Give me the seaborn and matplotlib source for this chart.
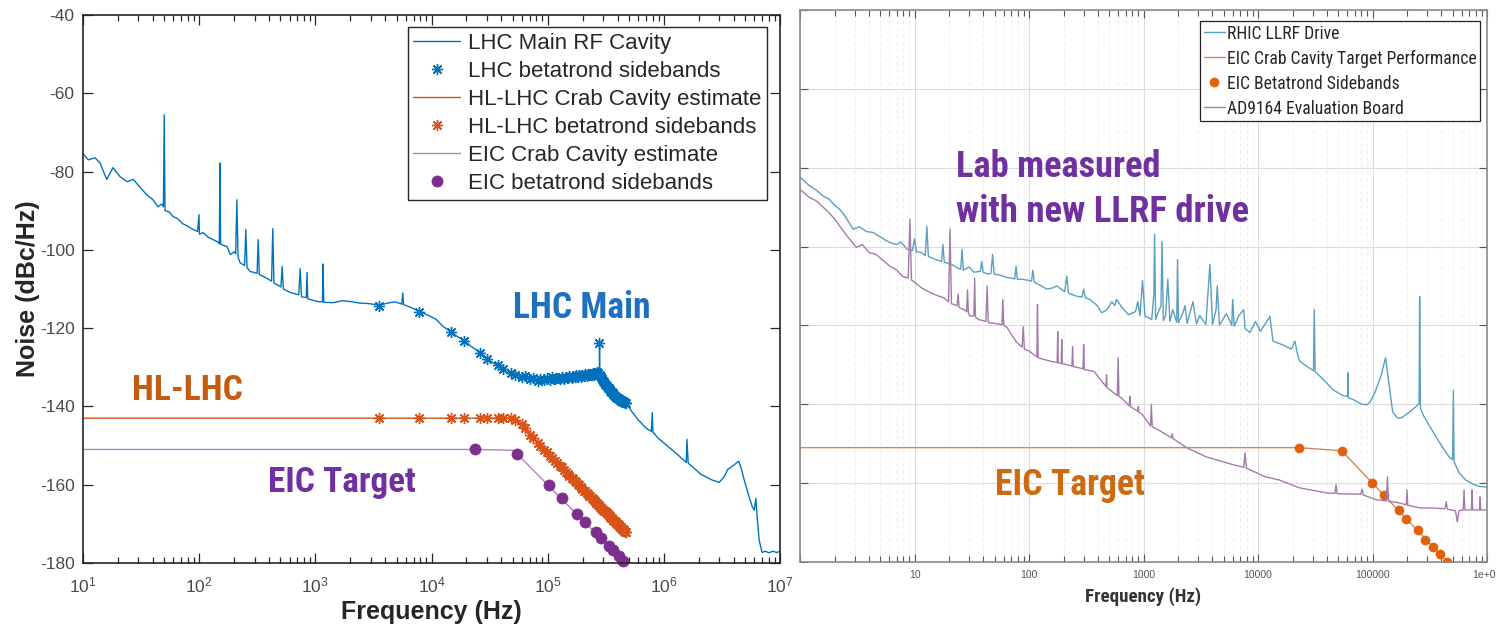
import matplotlib
matplotlib.use("Agg")
import matplotlib.pyplot as plt
import seaborn as sns
import numpy as np
from matplotlib import font_manager as fm
from matplotlib.ticker import LogLocator, FixedLocator, FixedFormatter, NullFormatter

# ---------------- left panel: LHC / HL-LHC / EIC ----------------
lhc_freq = [
    10, 11.1, 12.7, 14, 16, 18.1, 20.8, 24, 27, 31, 35.5, 40, 44, 47.5,
    49.2, 50, 50.8, 55, 59.6, 65, 72, 80, 88.6, 97, 99.5, 100.5, 108, 120, 132, 145,
    149, 151, 153, 160, 174, 185, 200, 206, 211, 216, 225, 246, 252, 258, 274,
    315, 322, 329, 357, 420, 430, 440, 470, 505, 518, 530, 610, 720, 740, 760,
    835, 848, 860, 1040, 1150, 1165, 1180, 1420, 1700, 2000, 2400, 2800, 3200, 3600,
    4200, 4800, 5400, 5550, 5650, 5750, 6500, 8000, 9500, 11000, 12500, 14700, 17000,
    19600, 22000, 25500, 28000, 30500, 34000, 38000, 40000, 45000, 51000, 56000, 62000,
    68000, 76000, 84000, 92000, 100000, 110000, 120000, 132000, 146000, 160000, 175000,
    190000, 205000, 220000, 235000, 248000, 262000, 272000, 278500, 279500, 281000,
    290000, 300000, 320000, 340000, 370000, 400000, 430000, 470000, 520000, 597000,
    700000, 780000, 795000, 805000, 900000, 1.08e6, 1.3e6, 1.56e6, 1.58e6, 1.62e6,
    2.1e6, 2.6e6, 3.0e6, 3.3e6, 3.55e6, 4.0e6, 4.4e6, 4.6e6, 4.9e6, 5.4e6, 5.8e6,
    6.0e6, 6.2e6, 6.35e6, 6.6e6, 6.9e6, 7.0e6, 7.5e6, 8.0e6, 8.7e6, 9.3e6, 1e7]
lhc_noise = [
    -75.5, -77, -76.5, -77.8, -82, -79, -81.3, -82.6, -82, -84, -86, -87.2, -89, -88.3,
    -89, -65.5, -90, -90.3, -91.5, -92, -93.3, -94, -94.8, -95.3, -91, -96, -95.6, -96.8, -97.4, -98,
    -98.5, -77.8, -98.5, -98.8, -99.2, -101.2, -100.5, -101, -87.2, -101.8, -103.3, -104, -94.8, -104.5, -105.5,
    -106, -97.4, -106.3, -106.8, -108, -94.6, -108.5, -108.9, -109.5, -104.3, -110, -110.9, -111.5, -104.8, -112,
    -112.2, -105.8, -112.5, -113.2, -113.3, -103.6, -113.4, -113.5, -113, -113.2, -113.6, -113.7, -113.9, -114.1,
    -113.6, -113.3, -113.7, -113.9, -111, -114, -114.6, -115.8, -116.8, -117.8, -119.5, -121, -122.3,
    -123.4, -124.7, -126, -127.2, -128, -128.9, -129.7, -130.2, -131.3, -131.8, -132.6, -132.2,
    -133.1, -132.8, -133.4, -132.9, -133.2, -132.7, -133.1, -132.5, -132.9, -132.3, -132.7,
    -132.1, -132.5, -131.9, -132.2, -131.7, -131.5, -131.2, -131, -123.8, -131.2,
    -132.5, -133.2, -134.3, -135, -135.8, -136.8, -137.6, -138.7, -141, -143.3,
    -145.5, -146.4, -141.6, -146.6, -148.2, -150.2, -152.2, -154.3, -148.4, -154.5,
    -157.4, -158.8, -159.4, -158, -156.1, -155, -154, -155.5, -158.6, -163, -165.8,
    -166.5, -163.5, -168, -174, -176.5, -177.3, -177, -177.4, -177, -177.3, -177.1]

# betatron sideband frequencies (kHz)
sb_khz = [
    3.5, 7.8, 14.7, 19.0, 26.0, 30.2, 37.2, 41.5, 48.5, 52.7,
    59.7, 64.0, 71.0, 75.2, 82.2, 86.5, 93.5, 97.7, 104.7, 109.0,
    116.0, 120.2, 127.2, 131.5, 138.5, 142.7, 149.7, 154.0, 161.0, 165.2,
    172.2, 176.5, 183.5, 187.7, 194.7, 199.0, 206.0, 210.2, 217.2, 221.5,
    228.5, 232.7, 239.7, 244.0, 251.0, 255.2, 262.2, 266.5, 273.5, 277.7,
    284.7, 289.0, 296.0, 300.2, 307.2, 311.5, 318.5, 322.7, 329.7, 334.0,
    341.0, 345.2, 352.2, 356.5, 363.5, 367.7, 374.7, 379.0, 386.0, 390.2,
    397.2, 401.5, 408.5, 412.7, 419.7, 424.0, 431.0, 435.2, 442.2, 446.5,
    453.5, 457.7, 464.7, 469.0]
lhc_sb_noise = [
    -114.3, -115.8, -121.0, -123.2, -126.3, -127.8, -129.5, -130.4, -131.5, -132.0,
    -132.6, -132.3, -133.1, -132.8, -133.4, -132.9, -133.3, -132.8, -133.2, -132.6,
    -133.1, -132.7, -133.0, -132.4, -132.9, -132.5, -132.8, -132.3, -132.7, -132.2,
    -132.6, -132.1, -132.5, -132.0, -132.4, -131.9, -132.3, -131.8, -132.2, -131.7,
    -132.1, -131.6, -132.0, -131.5, -131.9, -131.4, -131.7, -131.3, -131.5, -123.8,
    -132.0, -132.6, -133.0, -133.4, -133.8, -134.2, -134.6, -134.9, -135.2, -135.4,
    -135.7, -135.9, -136.2, -136.4, -136.7, -136.9, -137.1, -137.3, -137.5, -137.6,
    -137.8, -137.9, -138.1, -138.2, -138.3, -138.4, -138.5, -138.6, -138.7, -138.8,
    -138.9, -139.0, -139.1, -139.2]
hl_sb_noise = [
    -143.0, -143.0, -143.0, -143.0, -143.0, -143.0, -143.0, -143.0, -143.0, -143.5,
    -144.6, -145.6, -147.2, -148.1, -149.4, -150.1, -151.2, -151.7, -152.6, -153.2,
    -154.0, -154.4, -155.2, -155.6, -156.3, -156.7, -157.3, -157.7, -158.2, -158.6,
    -159.1, -159.4, -159.9, -160.2, -160.7, -161.0, -161.5, -161.7, -162.1, -162.4,
    -162.8, -163.0, -163.4, -163.7, -164.0, -164.2, -164.6, -164.8, -165.1, -165.3,
    -165.7, -165.9, -166.2, -166.4, -166.6, -166.8, -167.1, -167.3, -167.6, -167.7,
    -168.0, -168.2, -168.4, -168.6, -168.9, -169.0, -169.2, -169.4, -169.6, -169.8,
    -170.0, -170.1, -170.4, -170.5, -170.7, -170.9, -171.1, -171.2, -171.4, -171.5,
    -171.7, -171.9, -172.0, -172.2]

hl_freq = [10, 30000, 45000, 53000, 60000, 70000, 470000]
hl_noise = [-143, -143, -143, -143.5, -144.6, -147.0, -172.0]

eic_freq = [10, 24000, 50000, 54000, 445000]
eic_noise = [-151, -151, -151.2, -152, -179.5]
eic_sb_khz = [23.5, 54.7, 101.7, 133.0, 180.0, 211.3, 258.2, 289.5, 336.4, 367.7, 414.6, 445.9]
eic_sb_noise = [-151.0, -152.2, -160.0, -163.5, -167.6, -169.6, -172.2, -173.6, -175.6, -176.7, -178.3, -179.4]

# ---------------- right panel: RHIC LLRF drive / AD9164 board ----------------
rhic_freq = [
    1, 1.2, 1.4, 1.59, 1.8, 2.0, 2.23, 2.5, 2.9, 3.3, 3.8, 4.3, 5.0, 5.5, 6.1, 7.0, 7.6,
    8.6, 9.6, 10.0, 10.4, 11.5, 12.4, 12.8, 13.2, 15, 17.2, 17.7, 18.2, 21, 23, 25.3,
    26, 26.7, 30, 33, 37.5, 38.6, 39.7, 44, 46.5, 48, 49.5, 55, 59, 63, 70, 75, 77, 79,
    88, 100, 105, 108, 111, 125, 143, 160, 175, 205, 213, 221, 260, 290, 300, 310, 340,
    395, 430, 480, 530, 560, 580, 650, 740, 850, 890, 930, 980, 1030, 1100, 1180, 1230,
    1250, 1275, 1330, 1420, 1450, 1490, 1560, 1630, 1700, 1800, 1950, 1980, 2020, 2200,
    2300, 2400, 2700, 2900, 3100, 3500, 3800, 4000, 4300, 4400, 4600, 5300, 5900, 6000,
    6200, 6800, 7500, 7700, 8500, 9500, 10500, 11600, 12700, 13500, 16000, 19600, 21000,
    22000, 23000, 27000, 30500, 31000, 31500, 38000, 45000, 55000, 60500, 61000, 61500,
    70000, 80000, 89000, 95000, 105000, 118000, 130000, 138000, 150000, 165000, 180000,
    210000, 240000, 255000, 258000, 262000, 280000, 330000, 400000, 470000, 500000,
    508000, 515000, 570000, 650000, 750000, 850000, 1000000]
rhic_noise = [
    -82.4, -84.5, -85.8, -87.2, -88.0, -89.5, -90.6, -92.5, -95.6, -95.0, -96.2, -96.4, -97.5, -98.3, -99.0, -99.5, -98.8,
    -100.7, -101.0, -98.0, -101.3, -101.5, -102.3, -94.9, -102.5, -103.2, -103.8, -99.5, -104, -104.5, -105.2, -105.8,
    -100.7, -106, -105.2, -106.5, -106.3, -103.8, -106.5, -107, -106.8, -102, -107, -107.2, -107.5, -107.8, -108, -108.2, -105, -108.3,
    -108.3, -108.6, -108.8, -106, -109, -109.8, -110.8, -110.5, -110, -111.5, -107.5, -111.8, -112.6, -112.8, -110.8, -113, -113.4,
    -115, -116.8, -116, -114, -115, -113.4, -115.5, -117.3, -116.5, -114, -117.5, -108.6, -117.7, -118, -118.5, -112,
    -96.9, -118.5, -117, -115, -98.7, -118.8, -117.5, -108.3, -119, -116, -119.2, -103.3, -119.3, -117,
    -115, -119.5, -114, -119.6, -117.5, -119.8, -104.5, -119.8, -116, -110, -119.9, -117, -120, -113.4,
    -120.2, -117.5, -116, -120.8, -121.8, -119, -121.5, -119.5, -117.7, -124, -124.8, -126, -124,
    -127, -129, -130.5, -131.5, -116, -131.7, -134, -136.3, -137.8, -138, -132, -138.3,
    -139, -140, -140.1, -139.5, -137, -133, -128.2, -134, -142, -143.5, -143.4,
    -142, -140.6, -139.8, -112.7, -141, -143, -146.5, -150.5, -153.5, -154,
    -136.5, -154.5, -157.4, -159.2, -160.2, -160.8, -161]

ad_freq = [
    1, 1.2, 1.4, 1.59, 1.8, 2.0, 2.23, 2.6, 3.1, 3.5, 4.0, 4.6, 5.3, 6.1, 7.0, 7.9, 8.8, 9.1, 9.4,
    10, 11.5, 13.6, 16, 18, 19.8, 20.4, 21, 23.5, 24, 24.5, 27, 28.5, 29, 29.5, 30.5, 33, 33.5,
    34, 36, 42, 43, 44, 50, 58, 59, 60, 64, 78, 87, 89, 91, 100, 117, 118.5, 120, 122, 160,
    176, 178, 180, 191, 193, 195, 237, 240, 243, 296, 300, 304, 370, 470, 475, 480, 590, 600,
    610, 650, 750, 760, 770, 890, 900, 910, 970, 1150, 1170, 1190, 1350, 1750, 1780, 1810,
    2370, 3500, 6000, 7500, 7700, 7900, 11600, 15300, 23000, 40000, 47000, 48000, 49000,
    79000, 81000, 83000, 107000, 132000, 135000, 138000, 170000, 197000, 200000, 203000,
    260000, 330000, 430000, 440000, 450000, 530000, 550000, 570000, 620000, 630000, 640000,
    730000, 740000, 750000, 860000, 870000, 880000, 1000000]
ad_noise = [
    -85.5, -87.5, -88.5, -90, -91.5, -93, -94.9, -97.5, -100.2, -99.5, -101.5, -102, -103.5, -105, -106, -107.6, -108, -93.1, -108.5,
    -109, -110.5, -111.6, -112.5, -113, -114, -95.6, -114.5, -115, -112, -115.5, -116, -116.5, -111, -116.8, -117.7, -117.5, -108,
    -117.8, -118.5, -119, -110, -119.3, -119.5, -119.8, -113.4, -120, -120.5, -124.3, -125.5, -120.3, -126, -126.5, -128, -114.7, -128.2, -128.3, -129.2,
    -129.4, -121.6, -129.5, -129.6, -123.6, -129.7, -130.3, -125.4, -130.4, -131, -124.9, -131.2, -131.7, -135.5, -132.5, -135.8, -137.8, -128.2,
    -138, -138.5, -140.4, -138, -140.6, -141.8, -140.6, -142, -142.5, -145.5, -140, -145.7, -146.5, -148.5, -147.5, -148.7,
    -151, -153.3, -155.3, -156, -152.3, -156.2, -158.4, -159.2, -161.2, -162.5, -162.6, -160.4, -162.7,
    -162.8, -161.5, -163, -164.2, -164.5, -158.4, -164.6, -165, -165.5, -161.7, -165.6,
    -166.3, -166.3, -166.5, -164.7, -166.6, -167, -169.8, -167, -166.8, -161.7, -166.8,
    -166.8, -161.7, -166.8, -166.8, -163.5, -166.8, -166.8]

target_freq = [1, 22700, 53900, 450000]
target_noise = [-151, -151, -151.8, -180]
target_sb_freq = [22700, 53900, 99000, 125000, 170000, 196000, 250000, 290000, 340000, 390000, 450000]
target_sb_noise = [-151, -151.9, -160, -163, -166.8, -169, -172, -174.4, -176.2, -178, -180]

assert len(lhc_freq) == len(lhc_noise)
assert len(sb_khz) == len(lhc_sb_noise) == len(hl_sb_noise)
assert len(rhic_freq) == len(rhic_noise)
assert len(ad_freq) == len(ad_noise)

# ---------------- fonts ----------------
sns.set_style("ticks")
installed = {f.name for f in fm.fontManager.ttflist}
SANS = "Liberation Sans" if "Liberation Sans" in installed else "DejaVu Sans"
plt.rcParams["font.family"] = [SANS, "DejaVu Sans"]
plt.rcParams["mathtext.fontset"] = "custom"
plt.rcParams["mathtext.rm"] = SANS
plt.rcParams["axes.unicode_minus"] = False


def condensed_file(bold):
    # look for a narrow / condensed sans face among the installed fonts
    prefs = ["Liberation Sans Narrow", "Roboto Condensed", "Arial Narrow", "Noto Sans",
             "Open Sans", "Roboto", "Lato", "Inter", "DejaVu Sans"]
    stretch_rank = {"condensed": 0, "semi-condensed": 1, "extra-condensed": 2}
    best, best_key = None, None
    for f in fm.fontManager.ttflist:
        if any(bad in f.name for bad in ("Mono", "CJK", "Serif")):
            continue
        narrow = ("Narrow" in f.name or "Condensed" in f.name or f.stretch in stretch_rank)
        if not narrow:
            continue
        idx = next((i for i, p in enumerate(prefs) if f.name.startswith(p)), None)
        if idx is None:
            continue
        w = f.weight if isinstance(f.weight, (int, float)) else fm.weight_dict.get(f.weight, 400)
        if bold and w < 600:
            continue
        if not bold and not (350 <= w <= 500):
            continue
        if "italic" in str(f.style).lower() or "oblique" in str(f.style).lower():
            continue
        key = (idx, stretch_rank.get(f.stretch, 1), abs(w - (700 if bold else 400)))
        if best_key is None or key < best_key:
            best, best_key = f.fname, key
    return best


NARROW_BOLD = condensed_file(True)
NARROW_REG = condensed_file(False)


def narrow(bold, size):
    path = NARROW_BOLD if bold else NARROW_REG
    if path:
        return fm.FontProperties(fname=path, size=size)
    return fm.FontProperties(family="DejaVu Sans", stretch="condensed",
                             weight="bold" if bold else "normal", size=size)


BLUE = "#0072BD"
ORANGE = "#D95319"
PURPLE = "#7E2F8E"
INK = "#262626"
ASTERISK = (8, 2, 0)

fig = plt.figure(figsize=(14.96, 6.27), dpi=100)
ax1 = fig.add_axes([0.0555, 0.1021, 0.4659, 0.874])
ax2 = fig.add_axes([0.5348, 0.1037, 0.4592, 0.8804])
renderer = fig.canvas.get_renderer()


def fit_width(text, target_px):
    w = text.get_window_extent(renderer).width
    fp = text.get_fontproperties().copy()
    fp.set_size(fp.get_size() * target_px / w)
    text.set_fontproperties(fp)


def fitted_size(label, fp, target_px):
    t = fig.text(0.5, 0.5, label, fontproperties=fp)
    w = t.get_window_extent(renderer).width
    t.remove()
    return fp.get_size() * target_px / w


# ---------------- left panel ----------------
sb_hz = np.array(sb_khz) * 1e3
sns.lineplot(x=lhc_freq, y=lhc_noise, ax=ax1, estimator=None, sort=False,
             color=BLUE, linewidth=1.0, label="LHC Main RF Cavity")
sns.lineplot(x=sb_hz, y=lhc_sb_noise, ax=ax1, estimator=None, sort=False,
             color=BLUE, linestyle="none", marker=ASTERISK, markersize=8,
             mec=BLUE, mew=1.0, label="LHC betatrond sidebands", clip_on=False)
sns.lineplot(x=hl_freq, y=hl_noise, ax=ax1, estimator=None, sort=False,
             color=ORANGE, linewidth=1.0, label="HL-LHC Crab Cavity estimate")
sns.lineplot(x=sb_hz, y=hl_sb_noise, ax=ax1, estimator=None, sort=False,
             color=ORANGE, linestyle="none", marker=ASTERISK, markersize=8,
             mec=ORANGE, mew=1.0, label="HL-LHC betatrond sidebands", clip_on=False)
sns.lineplot(x=eic_freq, y=eic_noise, ax=ax1, estimator=None, sort=False,
             color=PURPLE, linewidth=1.0, alpha=0.6, label="EIC Crab Cavity estimate")
sns.lineplot(x=np.array(eic_sb_khz) * 1e3, y=eic_sb_noise, ax=ax1, estimator=None, sort=False,
             color=PURPLE, linestyle="none", marker="o", markersize=8,
             mec=PURPLE, mew=0.5, label="EIC betatrond sidebands", clip_on=False)

ax1.set_xscale("log")
ax1.set_xlim(10, 1e7)
ax1.set_ylim(-180, -40)
ax1.set_yticks(range(-180, -39, 20))
ax1.xaxis.set_major_locator(LogLocator(base=10, numticks=12))
ax1.xaxis.set_minor_locator(LogLocator(base=10, subs=np.arange(2, 10), numticks=12))
ax1.xaxis.set_minor_formatter(NullFormatter())
ax1.tick_params(which="both", direction="in", top=True, right=True, color=INK,
                labelcolor="#4a4a4a", labelsize=12.5, width=0.9)
ax1.tick_params(which="major", length=7)
ax1.tick_params(which="minor", length=4)
ax1.tick_params(axis="x", pad=9)
ax1.tick_params(axis="y", pad=6)
for s in ax1.spines.values():
    s.set_color(INK)
    s.set_linewidth(1.2)
ax1.set_xlabel("Frequency (Hz)", fontsize=18, fontweight="bold", color=INK, va="top")
ax1.set_ylabel("Noise (dBc/Hz)", fontsize=18, fontweight="bold", color=INK)
ax1.xaxis.set_label_coords(0.5, -0.068)
ax1.yaxis.set_label_coords(-0.062, 0.5)

h, l = ax1.get_legend_handles_labels()
leg1 = ax1.legend(h, l, loc="upper right", bbox_to_anchor=(0.981, 0.978), borderaxespad=0,
                  fontsize=16, handlelength=2.1, handletextpad=0.35, labelspacing=0.32,
                  borderpad=0.25, frameon=True, fancybox=False, framealpha=1,
                  edgecolor=INK, numpoints=1)
leg1.get_frame().set_linewidth(1.0)

big_fp = narrow(True, 26)
kw = dict(va="baseline", ha="left", fontproperties=big_fp)
t = ax1.text(0.617, 0.447, "LHC Main", transform=ax1.transAxes, color="#1F70C1", **kw)
fit_width(t, 138)
t = ax1.text(0.0703, 0.2974, "HL-LHC", transform=ax1.transAxes, color="#C55A11", **kw)
fit_width(t, 111)
t = ax1.text(0.2654, 0.1296, "EIC Target", transform=ax1.transAxes, color="#7030A0", **kw)
fit_width(t, 148)

# ---------------- right panel ----------------
R_BLUE = "#5A9FC0"
R_PURPLE = "#A27CA8"
R_LINE = "#D3875A"
R_DOT = "#E0600E"
sns.lineplot(x=rhic_freq, y=rhic_noise, ax=ax2, estimator=None, sort=False,
             color=R_BLUE, linewidth=1.0, label="RHIC LLRF Drive")
sns.lineplot(x=target_freq, y=target_noise, ax=ax2, estimator=None, sort=False,
             color=R_LINE, linewidth=1.0, label="EIC Crab Cavity Target Performance")
sns.lineplot(x=target_sb_freq, y=target_sb_noise, ax=ax2, estimator=None, sort=False,
             color=R_DOT, linestyle="none", marker="o", markersize=6.5,
             mec=R_DOT, mew=0.5, label="EIC Betatrond Sidebands")
sns.lineplot(x=ad_freq, y=ad_noise, ax=ax2, estimator=None, sort=False,
             color=R_PURPLE, linewidth=1.0, label="AD9164 Evaluation Board")

ax2.set_xscale("log")
ax2.set_xlim(1, 1e6)
ax2.set_ylim(-180, -40)
ax2.set_yticks(range(-180, -39, 20))
ax2.set_yticklabels([])
ax2.xaxis.set_major_locator(FixedLocator([1, 10, 100, 1e3, 1e4, 1e5, 1e6]))
ax2.xaxis.set_major_formatter(FixedFormatter(["", "10", "100", "1000", "10000", "100000", "1e+06"]))
ax2.xaxis.set_minor_locator(LogLocator(base=10, subs=np.arange(2, 10), numticks=12))
ax2.xaxis.set_minor_formatter(NullFormatter())
ax2.grid(which="major", color="#dcdcdc", linewidth=0.8)
ax2.grid(which="minor", axis="x", color="#efefef", linewidth=0.7, linestyle=(0, (4, 3)))
ax2.set_axisbelow(True)
ax2.tick_params(which="both", direction="in", top=True, right=True, color="#555555",
                labelcolor="#555555", labelsize=7.5, width=0.8, pad=6)
ax2.tick_params(which="major", length=6)
ax2.tick_params(which="minor", length=4)
for s in ax2.spines.values():
    s.set_color("#8a8a8a")
    s.set_linewidth(1.2)
xl_fp = narrow(True, 14)
xl_fp.set_size(fitted_size("Frequency (Hz)", xl_fp, 116))
ax2.set_xlabel("Frequency (Hz)", fontproperties=xl_fp, color="#333333", va="top")
ax2.xaxis.set_label_coords(0.5, -0.046)
ax2.set_ylabel("")

leg_fp = narrow(False, 13)
leg_fp.set_size(fitted_size("EIC Crab Cavity Target Performance", leg_fp, 248))
leg_px = leg_fp.get_size() * 100 / 72
h2, l2 = ax2.get_legend_handles_labels()
leg2 = ax2.legend(h2, l2, loc="upper right", bbox_to_anchor=(0.990, 0.980), borderaxespad=0,
                  prop=leg_fp, handlelength=21 / leg_px, handletextpad=0.12,
                  labelspacing=max(0.05, (25.3 - 1.04 * leg_px) / leg_px), borderpad=0.2,
                  frameon=True, fancybox=False, framealpha=1, edgecolor="#222222", numpoints=1)
leg2.get_frame().set_linewidth(0.9)

t = ax2.text(0.227, 0.6975, "Lab measured", transform=ax2.transAxes, color="#7030A0", **kw)
fit_width(t, 205)
t = ax2.text(0.227, 0.616, "with new LLRF drive", transform=ax2.transAxes, color="#7030A0", **kw)
fit_width(t, 294)
t = ax2.text(0.284, 0.1214, "EIC Target", transform=ax2.transAxes, color="#CC6A12", **kw)
fit_width(t, 150)

fig.savefig("out.png", dpi=100, facecolor="white")
